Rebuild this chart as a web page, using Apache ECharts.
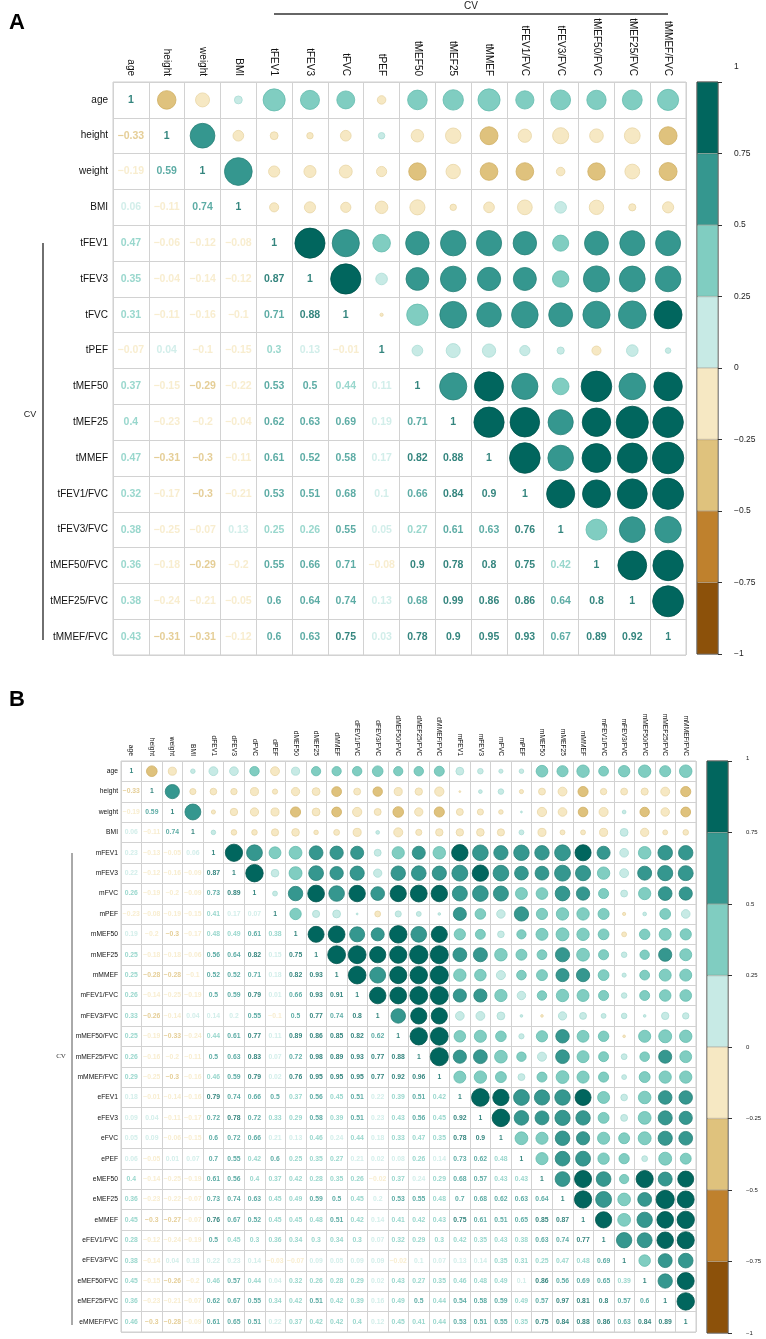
<!DOCTYPE html>
<html>
<head>
<meta charset="utf-8">
<title>CV correlation</title>
<script src="https://cdn.jsdelivr.net/npm/echarts@6/dist/echarts.min.js"></script>
<style>
html,body{margin:0;padding:0;background:#fff;}
#main{width:766px;height:1339px;}
</style>
</head>
<body>
<div id="main"></div>
<script>
// panel A names (rows and columns are the same)
var namesA=['age','height','weight','BMI','tFEV1','tFEV3','tFVC','tPEF','tMEF50','tMEF25','tMMEF','tFEV1/FVC','tFEV3/FVC','tMEF50/FVC','tMEF25/FVC','tMMEF/FVC'];

// lower triangle of A, row by row, diagonal included
var lowerA=[
    [1],
    [-0.33,1],
    [-0.19,0.59,1],
    [0.06,-0.11,0.74,1],
    [0.47,-0.06,-0.12,-0.08,1],
    [0.35,-0.04,-0.14,-0.12,0.87,1],
    [0.31,-0.11,-0.16,-0.1,0.71,0.88,1],
    [-0.07,0.04,-0.1,-0.15,0.3,0.13,-0.01,1],
    [0.37,-0.15,-0.29,-0.22,0.53,0.5,0.44,0.11,1],
    [0.4,-0.23,-0.2,-0.04,0.62,0.63,0.69,0.19,0.71,1],
    [0.47,-0.31,-0.3,-0.11,0.61,0.52,0.58,0.17,0.82,0.88,1],
    [0.32,-0.17,-0.3,-0.21,0.53,0.51,0.68,0.1,0.66,0.84,0.9,1],
    [0.38,-0.25,-0.07,0.13,0.25,0.26,0.55,0.05,0.27,0.61,0.63,0.76,1],
    [0.36,-0.18,-0.29,-0.2,0.55,0.66,0.71,-0.08,0.9,0.78,0.8,0.75,0.42,1],
    [0.38,-0.24,-0.21,-0.05,0.6,0.64,0.74,0.13,0.68,0.99,0.86,0.86,0.64,0.8,1],
    [0.43,-0.31,-0.31,-0.12,0.6,0.63,0.75,0.03,0.78,0.9,0.95,0.93,0.67,0.89,0.92,1]
];

// panel B: row names and column names differ in the original
var rowNamesB=['age','height','weight','BMI','mFEV1','mFEV3','mFVC','mPEF','mMEF50','mMEF25','mMMEF','mFEV1/FVC','mFEV3/FVC','mMEF50/FVC','mMEF25/FVC','mMMEF/FVC',
    'eFEV1','eFEV3','eFVC','ePEF','eMEF50','eMEF25','eMMEF','eFEV1/FVC','eFEV3/FVC','eMEF50/FVC','eMEF25/FVC','eMMEF/FVC'];
var colNamesB=['age','height','weight','BMI','dFEV1','dFEV3','dFVC','dPEF','dMEF50','dMEF25','dMMEF','dFEV1/FVC','dFEV3/FVC','dMEF50/FVC','dMEF25/FVC','dMMEF/FVC',
    'mFEV1','mFEV3','mFVC','mPEF','mMEF50','mMEF25','mMMEF','mFEV1/FVC','mFEV3/FVC','mMEF50/FVC','mMEF25/FVC','mMMEF/FVC'];

var lowerB=[
    [1],
    [-0.33,1],
    [-0.19,0.59,1],
    [0.06,-0.11,0.74,1],
    [0.23,-0.13,-0.05,0.06,1],
    [0.22,-0.12,-0.16,-0.09,0.87,1],
    [0.26,-0.19,-0.2,-0.09,0.73,0.89,1],
    [-0.23,-0.08,-0.19,-0.15,0.41,0.17,0.07,1],
    [0.19,-0.2,-0.3,-0.17,0.48,0.49,0.61,0.38,1],
    [0.25,-0.18,-0.18,-0.06,0.56,0.64,0.82,0.15,0.75,1],
    [0.25,-0.28,-0.28,-0.1,0.52,0.52,0.71,0.18,0.82,0.93,1],
    [0.26,-0.14,-0.25,-0.19,0.5,0.59,0.79,0.01,0.66,0.93,0.91,1],
    [0.33,-0.26,-0.14,0.04,0.14,0.2,0.55,-0.1,0.5,0.77,0.74,0.8,1],
    [0.25,-0.19,-0.33,-0.24,0.44,0.61,0.77,0.11,0.89,0.86,0.85,0.82,0.62,1],
    [0.26,-0.16,-0.2,-0.11,0.5,0.63,0.83,0.07,0.72,0.98,0.89,0.93,0.77,0.88,1],
    [0.29,-0.25,-0.3,-0.16,0.46,0.59,0.79,0.02,0.76,0.95,0.95,0.95,0.77,0.92,0.96,1],
    [0.18,-0.01,-0.14,-0.16,0.79,0.74,0.66,0.5,0.37,0.56,0.45,0.51,0.22,0.39,0.51,0.42,1],
    [0.09,0.04,-0.11,-0.17,0.72,0.78,0.72,0.33,0.29,0.58,0.39,0.51,0.23,0.43,0.56,0.45,0.92,1],
    [0.05,0.09,-0.06,-0.15,0.6,0.72,0.66,0.21,0.13,0.46,0.24,0.44,0.18,0.33,0.47,0.35,0.78,0.9,1],
    [0.06,-0.05,0.01,0.07,0.7,0.55,0.42,0.6,0.25,0.35,0.27,0.21,0.02,0.08,0.26,0.14,0.73,0.62,0.48,1],
    [0.4,-0.14,-0.25,-0.19,0.61,0.56,0.4,0.37,0.42,0.28,0.35,0.26,-0.02,0.37,0.24,0.29,0.68,0.57,0.43,0.43,1],
    [0.36,-0.23,-0.22,-0.07,0.73,0.74,0.63,0.45,0.49,0.59,0.5,0.45,0.2,0.53,0.55,0.48,0.7,0.68,0.62,0.63,0.64,1],
    [0.45,-0.3,-0.27,-0.07,0.76,0.67,0.52,0.45,0.45,0.48,0.51,0.42,0.14,0.41,0.42,0.43,0.75,0.61,0.51,0.65,0.85,0.87,1],
    [0.28,-0.12,-0.24,-0.19,0.5,0.45,0.3,0.36,0.34,0.3,0.34,0.3,0.07,0.32,0.29,0.3,0.42,0.35,0.43,0.38,0.63,0.74,0.77,1],
    [0.38,-0.14,0.04,0.18,0.22,0.23,0.14,-0.03,-0.07,0.09,0.05,0.09,0.09,-0.02,0.1,0.07,0.13,0.14,0.35,0.31,0.25,0.47,0.48,0.69,1],
    [0.45,-0.15,-0.26,-0.2,0.46,0.57,0.44,0.04,0.32,0.26,0.28,0.29,0.02,0.43,0.27,0.35,0.46,0.48,0.49,0.1,0.86,0.56,0.69,0.65,0.39,1],
    [0.36,-0.23,-0.21,-0.07,0.62,0.67,0.55,0.34,0.42,0.51,0.42,0.39,0.16,0.49,0.5,0.44,0.54,0.58,0.59,0.49,0.57,0.97,0.81,0.8,0.57,0.6,1],
    [0.46,-0.3,-0.28,-0.09,0.61,0.65,0.51,0.22,0.37,0.42,0.42,0.4,0.12,0.45,0.41,0.44,0.53,0.51,0.55,0.35,0.75,0.84,0.88,0.86,0.63,0.84,0.89,1]
];

// colour bar: breaks from -1 to 1 and one colour per band
var cbBreaks=[-1,-0.75,-0.5,-0.25,0,0.25,0.5,0.75,1];
var cbColors=['#8C510A','#BF812D','#DFC27D','#F6E8C3','#C7EAE5','#80CDC1','#35978F','#01665E'];
// slightly darker outlines for the circles
var cbEdges=['#7a4608','#a96f24','#cfae62','#e9d6a6','#a9dcd4','#63bbad','#2a8179','#01544d'];

var FONT='"Liberation Sans", Arial, sans-serif';

function bandOf(v){
    var k=Math.floor((v+1)/0.25);
    if(k>7) k=7;
    if(k<0) k=0;
    return k;
}
function colorOf(v){
    return cbColors[bandOf(v)];
}
function fmt(v){
    return String(v).replace('-','\u2212');
}

// numbers in lower part, circles in upper part
function cells(lower){
    var nums=[],circ=[];
    for(var i=0;i<lower.length;i++){
        for(var j=0;j<lower[i].length;j++){
            var v=lower[i][j];
            nums.push({value:[j,i,v],label:{color:colorOf(v)}});
            if(j<i){
                var k=bandOf(v);
                circ.push({value:[i,j,v],itemStyle:{color:cbColors[k],borderColor:cbEdges[k]}});
            }
        }
    }
    return {nums:nums,circ:circ};
}

var cellA=573/16;
var cellB=575/28;
var dA=cells(lowerA);
var dB=cells(lowerB);

function matrixSeries(d,gi,cell,numSize){
    return [{
        type:'scatter',xAxisIndex:gi,yAxisIndex:gi,
        data:d.circ,
        symbolSize:function(p){return 0.9*cell*Math.sqrt(Math.abs(p[2]));},
        itemStyle:{opacity:1,borderWidth:0.8},
        z:3
    },{
        type:'scatter',xAxisIndex:gi,yAxisIndex:gi,
        data:d.nums,
        symbolSize:1,
        itemStyle:{color:'rgba(0,0,0,0)'},
        label:{
            show:true,position:'inside',
            fontFamily:FONT,fontWeight:'bold',fontSize:numSize,
            formatter:function(p){return fmt(p.value[2]);}
        },
        z:4
    }];
}

// stacked bars for the colour bar, growing out from 0
function barSeries(gi){
    var s=[];
    var order=[4,5,6,7,3,2,1,0];
    for(var n=0;n<order.length;n++){
        var k=order[n];
        var lo=cbBreaks[k],hi=cbBreaks[k+1];
        var val=lo>=0 ? hi-lo : lo-hi;
        s.push({
            type:'bar',xAxisIndex:gi,yAxisIndex:gi,stack:'cb'+gi,
            data:[val],barWidth:'100%',
            itemStyle:{color:cbColors[k],borderColor:'rgba(60,40,20,0.35)',borderWidth:0.5},
            silent:true
        });
    }
    return s;
}

function matrixX(gi,names,fs,margin){
    return {type:'category',gridIndex:gi,data:names,position:'top',
        axisLine:{show:false},axisTick:{show:false},
        axisLabel:{interval:0,rotate:90,fontFamily:FONT,fontSize:fs,color:'#111',margin:margin},
        splitLine:{show:true,interval:0,lineStyle:{color:'#d2d2d2',width:1}}};
}
function matrixY(gi,names,fs,margin){
    return {type:'category',gridIndex:gi,data:names,inverse:true,
        axisLine:{show:false},axisTick:{show:false},
        axisLabel:{interval:0,fontFamily:FONT,fontSize:fs,color:'#111',margin:margin},
        splitLine:{show:true,interval:0,lineStyle:{color:'#d2d2d2',width:1}}};
}
function barX(gi){
    return {type:'category',gridIndex:gi,data:['cb'],show:false};
}
// topLift: the "1" label sits a little above the bar top in the original
function barY(gi,fs,margin,topLift){
    return {type:'value',gridIndex:gi,min:-1,max:1,interval:0.25,position:'right',
        axisLine:{show:false},
        axisTick:{show:true,length:4,lineStyle:{color:'#333'}},
        splitLine:{show:false},
        axisLabel:{fontFamily:FONT,fontSize:fs,color:'#222',margin:margin,
            formatter:function(v){
                if(v===1) return '{up|1}';
                return fmt(v);
            },
            rich:{up:{fontFamily:FONT,fontSize:fs,color:'#222',padding:[0,0,topLift*2,0]}}}};
}

var myChart=echarts.init(document.getElementById('main'),null,{renderer:'canvas'});

var option={
    animation:false,
    backgroundColor:'#fff',
    grid:[
        {left:113,top:82,width:573,height:573,show:true,borderColor:'#cfcfcf',borderWidth:1},
        {left:697,top:82,width:21,height:572,show:true,borderColor:'#333',borderWidth:1},
        {left:121,top:761,width:575,height:571,show:true,borderColor:'#cfcfcf',borderWidth:1},
        {left:707,top:761,width:21,height:572,show:true,borderColor:'#333',borderWidth:1}
    ],
    xAxis:[matrixX(0,namesA,10,6),barX(1),matrixX(2,colNamesB,6.7,5),barX(3)],
    yAxis:[matrixY(0,namesA,10,5),barY(1,8.5,16,15),matrixY(2,rowNamesB,6.7,3),barY(3,6,18,3)],
    series:[].concat(
        matrixSeries(dA,0,cellA,10.5),
        barSeries(1),
        matrixSeries(dB,2,cellB,6.8),
        barSeries(3)
    ),
    graphic:[
        {type:'text',x:17,y:23,style:{text:'A',font:'bold 22px '+FONT,fill:'#000',align:'center',verticalAlign:'middle'}},
        {type:'text',x:17,y:700,style:{text:'B',font:'bold 22px '+FONT,fill:'#000',align:'center',verticalAlign:'middle'}},
        // CV brackets in A
        {type:'line',shape:{x1:274,y1:14,x2:668,y2:14},style:{stroke:'#333',lineWidth:1.4}},
        {type:'text',x:471,y:6,style:{text:'CV',font:'10px '+FONT,fill:'#222',align:'center',verticalAlign:'middle'}},
        {type:'line',shape:{x1:43,y1:243,x2:43,y2:640},style:{stroke:'#333',lineWidth:1.4}},
        {type:'text',x:30,y:415,style:{text:'CV',font:'9px '+FONT,fill:'#222',align:'center',verticalAlign:'middle'}},
        // CV bracket in B
        {type:'line',shape:{x1:72,y1:853,x2:72,y2:1325},style:{stroke:'#555',lineWidth:1}},
        {type:'text',x:61,y:1056,style:{text:'CV',font:'7px "Liberation Serif", serif',fill:'#333',align:'center',verticalAlign:'middle'}}
    ]
};
myChart.setOption(option);
</script>
</body>
</html>
